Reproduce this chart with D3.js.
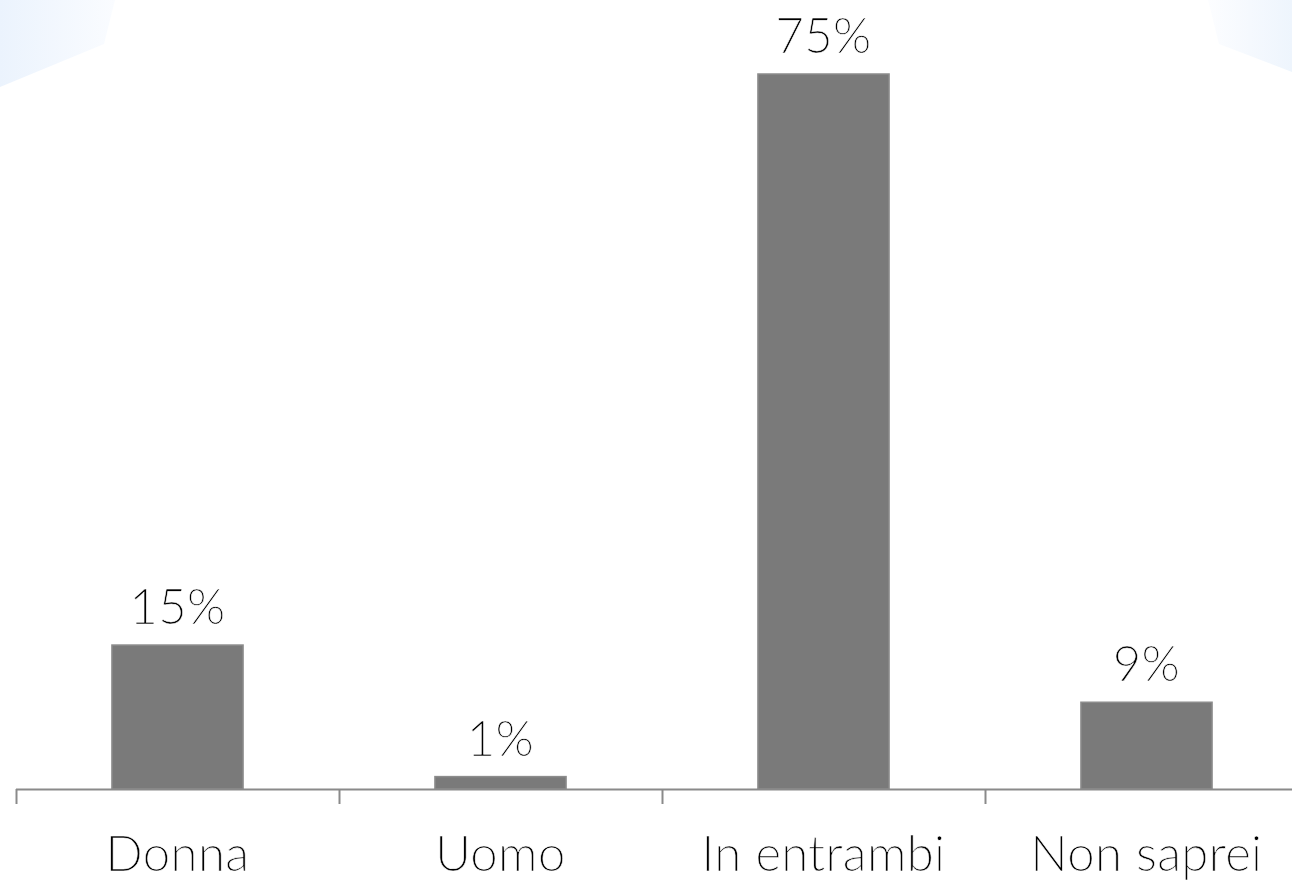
<!DOCTYPE html>
<html><head><meta charset="utf-8">
<script src="https://cdn.jsdelivr.net/npm/d3@7"></script>
<style>html,body{margin:0;padding:0;background:#fff;overflow:hidden}</style>
</head><body>
<svg id="c" width="1292" height="882"></svg>
<script>
const categories = ["Donna", "Uomo", "In entrambi", "Non saprei"];
const values = [15.1, 1.3, 75, 9.1];
const valueLabels = ["15%", "1%", "75%", "9%"];

const svg = d3.select("#c");
const W = 1292, H = 882;

// corner decorations
const defs = svg.append("defs");
const g1 = defs.append("linearGradient").attr("id","gl").attr("x1","0").attr("x2","1").attr("y1","0").attr("y2","0");
g1.append("stop").attr("offset","0").attr("stop-color","#ebf3fd");
g1.append("stop").attr("offset","1").attr("stop-color","#fafcff");
const g2 = defs.append("linearGradient").attr("id","gr").attr("x1","0").attr("x2","1").attr("y1","0").attr("y2","0");
g2.append("stop").attr("offset","0").attr("stop-color","#fcfdff");
g2.append("stop").attr("offset","1").attr("stop-color","#eef5fd");
svg.append("path").attr("d","M0,0 L115,0 L104,44 L0,87 Z").attr("fill","url(#gl)");
svg.append("path").attr("d","M1208,0 L1292,0 L1292,72 L1219,44 Z").attr("fill","url(#gr)");

const x = d3.scaleBand().domain(categories).range([16, 16 + 4 * 323]).paddingInner(0.594).paddingOuter(0.297);
const y = d3.scaleLinear().domain([0, 75]).range([789, 74]);

// bars
svg.selectAll("rect.bar").data(categories).join("rect")
  .attr("class","bar")
  .attr("x", d => x(d))
  .attr("width", x.bandwidth())
  .attr("y", (d,i) => y(values[i]))
  .attr("height", (d,i) => y(0) - y(values[i]))
  .attr("fill", "#7a7a7a")
  .attr("stroke", "#8c8c8c")
  .attr("stroke-width", 1.5);

// axis
svg.append("line").attr("x1", 16).attr("x2", W).attr("y1", 789.5).attr("y2", 789.5)
  .attr("stroke", "#8a8a8a").attr("stroke-width", 2);
const step = x.step();
const tickXs = d3.range(categories.length + 1).map(i => x.range()[0] + i * step);
svg.selectAll("line.tick").data(tickXs).join("line").attr("class","tick")
  .attr("x1", d => Math.round(d) + 0.5).attr("x2", d => Math.round(d) + 0.5)
  .attr("y1", 789).attr("y2", 804)
  .attr("stroke", "#8a8a8a").attr("stroke-width", 2);

const FONT = "'Lato Light', Lato, sans-serif";
function thin(sel) {
  sel.attr("font-family", FONT).attr("font-weight", 300).attr("font-size", 49)
     .attr("fill", "#000").attr("stroke", "#fff").attr("stroke-width", 0.6)
     .attr("letter-spacing", 0.4);
}
// category labels
svg.selectAll("text.cat").data(categories).join("text").attr("class","cat")
  .attr("x", d => x(d) + x.bandwidth() / 2)
  .attr("y", 871)
  .attr("text-anchor", "middle")
  .call(thin)
  .text(d => d);

// value labels
svg.selectAll("text.val").data(categories).join("text").attr("class","val")
  .attr("x", d => x(d) + x.bandwidth() / 2)
  .attr("y", (d,i) => y(values[i]) - 21)
  .attr("text-anchor", "middle")
  .call(thin)
  .text((d,i) => valueLabels[i]);
</script>
</body></html>
